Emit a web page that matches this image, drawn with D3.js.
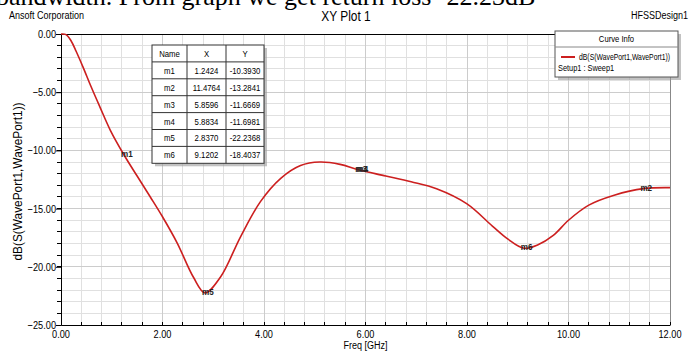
<!DOCTYPE html>
<html><head><meta charset="utf-8">
<script src="https://cdn.jsdelivr.net/npm/d3@7"></script>
<style>
html,body{margin:0;padding:0;background:#fff;}
svg{display:block;}
text{font-family:"Liberation Sans",Arial,sans-serif;}
text.serif{font-family:"Liberation Serif","Times New Roman",serif;}
</style></head><body>
<svg id="c" width="692" height="352"></svg>
<script>
// ---- data ----
const freq = [0, 0.1, 0.2, 0.3, 0.43, 0.6, 0.77, 0.97, 1.2424, 1.5, 1.76, 2.0, 2.29, 2.61, 2.837, 3.14, 3.54, 3.93, 4.33, 4.72, 5.1, 5.5, 5.8596, 6.4, 6.9, 7.4, 8.0, 8.5, 8.8, 9.1202, 9.4, 9.7, 10.0, 10.4, 10.9, 11.4764, 12];
const dB   = [0, -0.05, -0.6, -1.5, -2.8, -4.6, -6.3, -8.25, -10.393, -12.2, -14.0, -15.7, -17.96, -20.9, -22.2368, -20.9, -17.4, -14.4, -12.4, -11.3, -11.0, -11.2, -11.6669, -12.2, -12.7, -13.3, -14.6, -16.5, -17.6, -18.4037, -18.1, -17.3, -16.0, -14.7, -13.85, -13.2841, -13.2];
const markerNames = ["m1", "m2", "m3", "m4", "m5", "m6"];
const markerX = [1.2424, 11.4764, 5.8596, 5.8834, 2.8370, 9.1202];
const markerY = [-10.3930, -13.2841, -11.6669, -11.6981, -22.2368, -18.4037];
const xTicks = [0, 2, 4, 6, 8, 10, 12];
const yTicks = [0, -5, -10, -15, -20, -25];
const seriesName = "dB(S(WavePort1,WavePort1))";
const setupName = "Setup1 : Sweep1";

const svg = d3.select("#c");
const L = 61, R = 670, T = 34, B = 325;
const x = d3.scaleLinear().domain([0, 12]).range([L, R]);
const y = d3.scaleLinear().domain([0, -25]).range([T, B]);

// condensed text helper
function nt(parent, px, py, str, size, anchor, sx, extra) {
  const t = parent.append("text")
    .attr("transform", `translate(${px},${py}) scale(${sx || 0.82},1)`)
    .attr("font-size", size).attr("text-anchor", anchor || "start").attr("fill", "#000").text(str);
  if (extra) extra(t);
  return t;
}

// cut-off caption line at top
svg.append("text").attr("class", "serif").attr("x", -4).attr("y", 5)
  .attr("font-size", 26).attr("fill", "#000").text("bandwidth. From graph we get return loss -22.23dB");

// header texts
nt(svg, 9, 19, "Ansoft Corporation", 11, "start", 0.82);
nt(svg, 346, 21, "XY Plot 1", 14, "middle", 0.85);
nt(svg, 688, 19, "HFSSDesign1", 11, "end", 0.82);

// grid
const g = svg.append("g");
const vMinor = d3.range(0, 12.0001, 0.4);
g.selectAll("line.v").data(vMinor).enter().append("line")
  .attr("x1", d => x(d)).attr("x2", d => x(d)).attr("y1", T).attr("y2", B)
  .attr("stroke", "#e0e0e0").attr("stroke-width", 1).attr("shape-rendering","crispEdges");
const hMinor = d3.range(0, -25.0001, -1);
g.selectAll("line.h").data(hMinor).enter().append("line")
  .attr("x1", L).attr("x2", R).attr("y1", d => y(d)).attr("y2", d => y(d))
  .attr("stroke", "#e0e0e0").attr("stroke-width", 1).attr("shape-rendering","crispEdges");
g.selectAll("line.vm").data(xTicks).enter().append("line")
  .attr("x1", d => x(d)).attr("x2", d => x(d)).attr("y1", T).attr("y2", B)
  .attr("stroke", "#cccccc").attr("shape-rendering","crispEdges");
g.selectAll("line.hm").data(yTicks).enter().append("line")
  .attr("x1", L).attr("x2", R).attr("y1", d => y(d)).attr("y2", d => y(d))
  .attr("stroke", "#cccccc").attr("shape-rendering","crispEdges");

// right border
svg.append("line").attr("x1", R).attr("x2", R).attr("y1", T).attr("y2", B)
  .attr("stroke", "#888").attr("shape-rendering","crispEdges");
// top border
svg.append("line").attr("x1", L).attr("x2", R).attr("y1", T).attr("y2", T)
  .attr("stroke", "#000").attr("shape-rendering","crispEdges");

// axes (lines & major ticks via d3 axes; labels condensed)
const yAxis = svg.append("g").attr("transform", `translate(${L},0)`)
  .call(d3.axisLeft(y).tickValues(yTicks).tickFormat("").tickSize(5));
const xAxis = svg.append("g").attr("transform", `translate(0,${B})`)
  .call(d3.axisBottom(x).tickValues(xTicks).tickFormat("").tickSize(0));
[yAxis, xAxis].forEach(a => {
  a.select(".domain").attr("stroke", "#000");
  a.selectAll(".tick line").attr("stroke","#000");
});
const fmt = d3.format(".2f");
yTicks.forEach(v => nt(svg, L - 5, y(v) + 4, fmt(v), 11.5, "end", 0.8));
xTicks.forEach(v => nt(svg, x(v), B + 13, fmt(v), 11.5, "middle", 0.8));
// minor ticks
svg.append("g").selectAll("line").data(hMinor).enter().append("line")
  .attr("x1", L - 4).attr("x2", L).attr("y1", d => y(d)).attr("y2", d => y(d))
  .attr("stroke", "#000").attr("shape-rendering","crispEdges");
svg.append("g").selectAll("line").data(vMinor).enter().append("line")
  .attr("x1", d => x(d)).attr("x2", d => x(d)).attr("y1", B - 3).attr("y2", B)
  .attr("stroke", "#000").attr("shape-rendering","crispEdges");

// axis titles
svg.append("text").attr("transform", `translate(22,${(T+B)/2 + 2}) rotate(-90) scale(0.95,1)`)
  .attr("text-anchor","middle").attr("font-size", 12.5).text("dB(S(WavePort1,WavePort1))");
nt(svg, x(6), 349, "Freq [GHz]", 11, "middle", 0.82);

// curve
const pts = freq.map((f, i) => [f, dB[i]]);
svg.append("path").datum(pts)
  .attr("d", d3.line().x(d => x(d[0])).y(d => y(d[1])).curve(d3.curveCatmullRom.alpha(0.5)))
  .attr("fill", "none").attr("stroke", "#cc1f1f").attr("stroke-width", 1.6);

// marker labels
markerNames.forEach((n, i) => nt(svg, x(markerX[i]) - 3, y(markerY[i]) + 2, n, 9.5, "start", 0.85,
  t => t.attr("font-weight", "bold").attr("fill", "#222")));

// marker table
const tx = 152, ty = 45, cw = [35, 39, 38], rh = 16.9;
const tw = d3.sum(cw), th = rh * 7;
svg.append("rect").attr("x", tx + 3).attr("y", ty + 3).attr("width", tw).attr("height", th).attr("fill", "#9a9a9a").attr("opacity", 0.6);
svg.append("rect").attr("x", tx).attr("y", ty).attr("width", tw).attr("height", th).attr("fill", "#fff").attr("stroke", "#333");
const header = ["Name", "X", "Y"];
const rows = [header].concat(markerNames.map((n, i) => [n, markerX[i].toFixed(4), markerY[i].toFixed(4)]));
const colX = [tx, tx + cw[0], tx + cw[0] + cw[1], tx + tw];
for (let r = 1; r < 7; r++) svg.append("line").attr("x1", tx).attr("x2", tx + tw).attr("y1", ty + r * rh).attr("y2", ty + r * rh).attr("stroke", "#333");
for (let c = 1; c < 3; c++) svg.append("line").attr("x1", colX[c]).attr("x2", colX[c]).attr("y1", ty).attr("y2", ty + th).attr("stroke", "#333");
rows.forEach((row, r) => row.forEach((v, c) => {
  nt(svg, (colX[c] + colX[c + 1]) / 2, ty + r * rh + rh / 2 + 3.5, v, 9.5, "middle", 0.82);
}));

// legend box
const lx = 555, ly = 31, lw = 123, lh = 46;
svg.append("rect").attr("x", lx + 3).attr("y", ly + 3).attr("width", lw).attr("height", lh).attr("fill", "#9a9a9a").attr("opacity", 0.6);
svg.append("rect").attr("x", lx).attr("y", ly).attr("width", lw).attr("height", lh).attr("fill", "#fff").attr("stroke", "#555");
svg.append("line").attr("x1", lx).attr("x2", lx + lw).attr("y1", ly + 16).attr("y2", ly + 16).attr("stroke", "#888");
nt(svg, lx + lw / 2, ly + 11, "Curve Info", 9, "middle", 0.85);
svg.append("line").attr("x1", lx + 6).attr("x2", lx + 20).attr("y1", ly + 26).attr("y2", ly + 26).attr("stroke", "#cc1f1f").attr("stroke-width", 2);
nt(svg, lx + 24, ly + 29, seriesName, 9, "start", 0.76);
nt(svg, lx + 3, ly + 40, setupName, 9, "start", 0.82);
</script>
</body></html>
